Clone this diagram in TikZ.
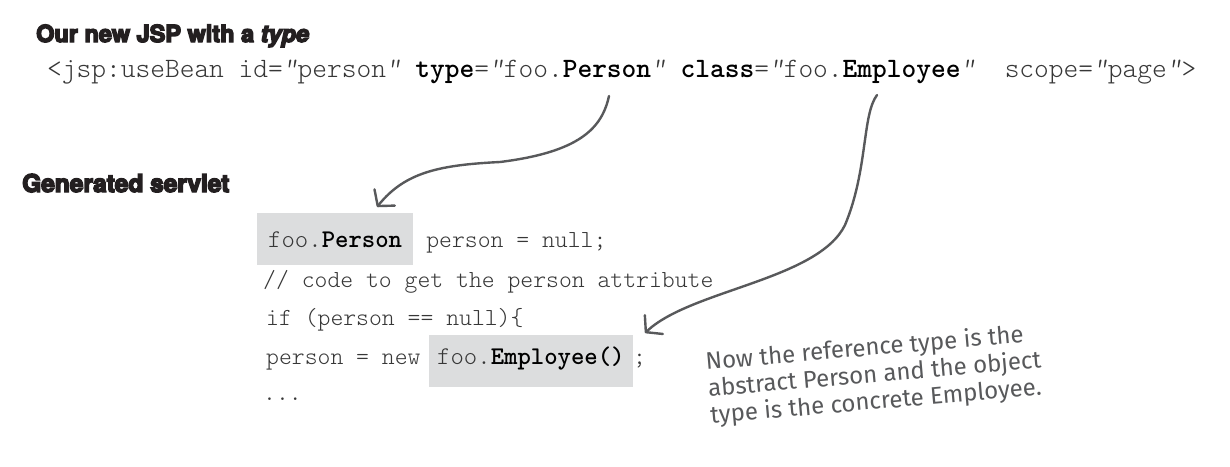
\documentclass[tikz,border=0pt]{standalone}
\usepackage{fontspec}
\usetikzlibrary{arrows.meta}
\newfontfamily\titlefont{TeX Gyre Heros}[BoldFeatures={FakeBold=6},BoldItalicFeatures={FakeBold=6}]
\newfontfamily\notefont{Fira Sans}
\newcommand\kbold[1]{{\fontseries{b}\selectfont\color{black}#1}}
\newcommand\qq{{\fontshape{sl}\selectfont"}}
\definecolor{titleblack}{RGB}{35,31,32}
\definecolor{codegray}{RGB}{55,55,55}
\definecolor{boxgray}{RGB}{220,221,222}
\definecolor{arrowgray}{RGB}{88,89,91}
\definecolor{notegray}{RGB}{88,89,91}
\begin{document}
\begin{tikzpicture}[x=1pt,y=-1pt,
  heading/.style={font=\titlefont\bfseries\fontsize{23.5}{27}\selectfont, text=titleblack, inner sep=0pt, anchor=base west},
  subheading/.style={heading, font=\titlefont\bfseries\fontsize{24.5}{28}\selectfont},
  jspcode/.style={font=\fontfamily{lmtt}\fontseries{l}\fontsize{28.06}{32}\selectfont, text=codegray, inner sep=0pt, anchor=base west},
  javacode/.style={font=\fontfamily{lmtt}\fontseries{l}\fontsize{24.5}{30}\selectfont, text=codegray, inner sep=0pt, anchor=base west},
  hilite/.style={fill=boxgray, inner ysep=0pt, font=\fontfamily{lmtt}\fontseries{l}\fontsize{25.5}{30}\selectfont},
  note/.style={font=\notefont\fontsize{24}{27}\selectfont, text=notegray, inner sep=0pt, align=left, rotate=5},
  pointer/.style={draw=arrowgray, line width=2.4pt, line cap=round, -{Straight Barb[length=11pt,width=26pt,line cap=round,line join=round]}}]
\useasboundingbox (0,0) rectangle (1230,466);
\fill[white] (0,0) rectangle (1230,466);

\node[heading] (title) at (36,42) {Our new JSP with a \textit{type}};
\node[jspcode] (jsp) at (47,77) {<jsp:useBean id=\qq person\qq\ \kbold{type}=\qq foo.\kbold{Person}\qq\ \kbold{class}=\qq foo.\kbold{Employee}\qq\ \ scope=\qq page\qq>};

\node[subheading] (gen) at (22,192) {Generated servlet};

\node[javacode, hilite, inner xsep=11pt, text height=34pt, text depth=18pt] (box1) at (257,247) {foo.\kbold{Person}};
\node[javacode] (l1rest) at (box1.base east) {\ person = null;};
\node[javacode] (l2) at (263,287) {// code to get the person attribute};
\node[javacode] (l3) at (266,325) {if (person == null)\{};
\node[javacode] (l4a) at (266,364) {person = new};
\node[javacode, hilite, inner xsep=8pt, text height=29pt, text depth=23pt] (box2) at (429,364) {foo.\kbold{Employee()}};
\node[javacode] (l4b) at (box2.base east) {;};
\node[javacode] (l5) at (263,400) {...};

\node[note, anchor=west] (note) at (708,390) {Now the reference type is the\\abstract Person and the object\\type is the concrete Employee.};

\coordinate (pstart) at (609,96);
\coordinate (ptip) at (377,207);
\coordinate (estart) at (877,95);
\coordinate (etip) at (645,333);
\draw[pointer] (pstart) .. controls (602,128) and (580,152) .. (500,162) .. controls (440,165) and (405,172) .. (ptip);
\draw[pointer] (estart) .. controls (862,115) and (868,170) .. (845,225) .. controls (818,280) and (690,290) .. (etip);
\end{tikzpicture}
\end{document}
